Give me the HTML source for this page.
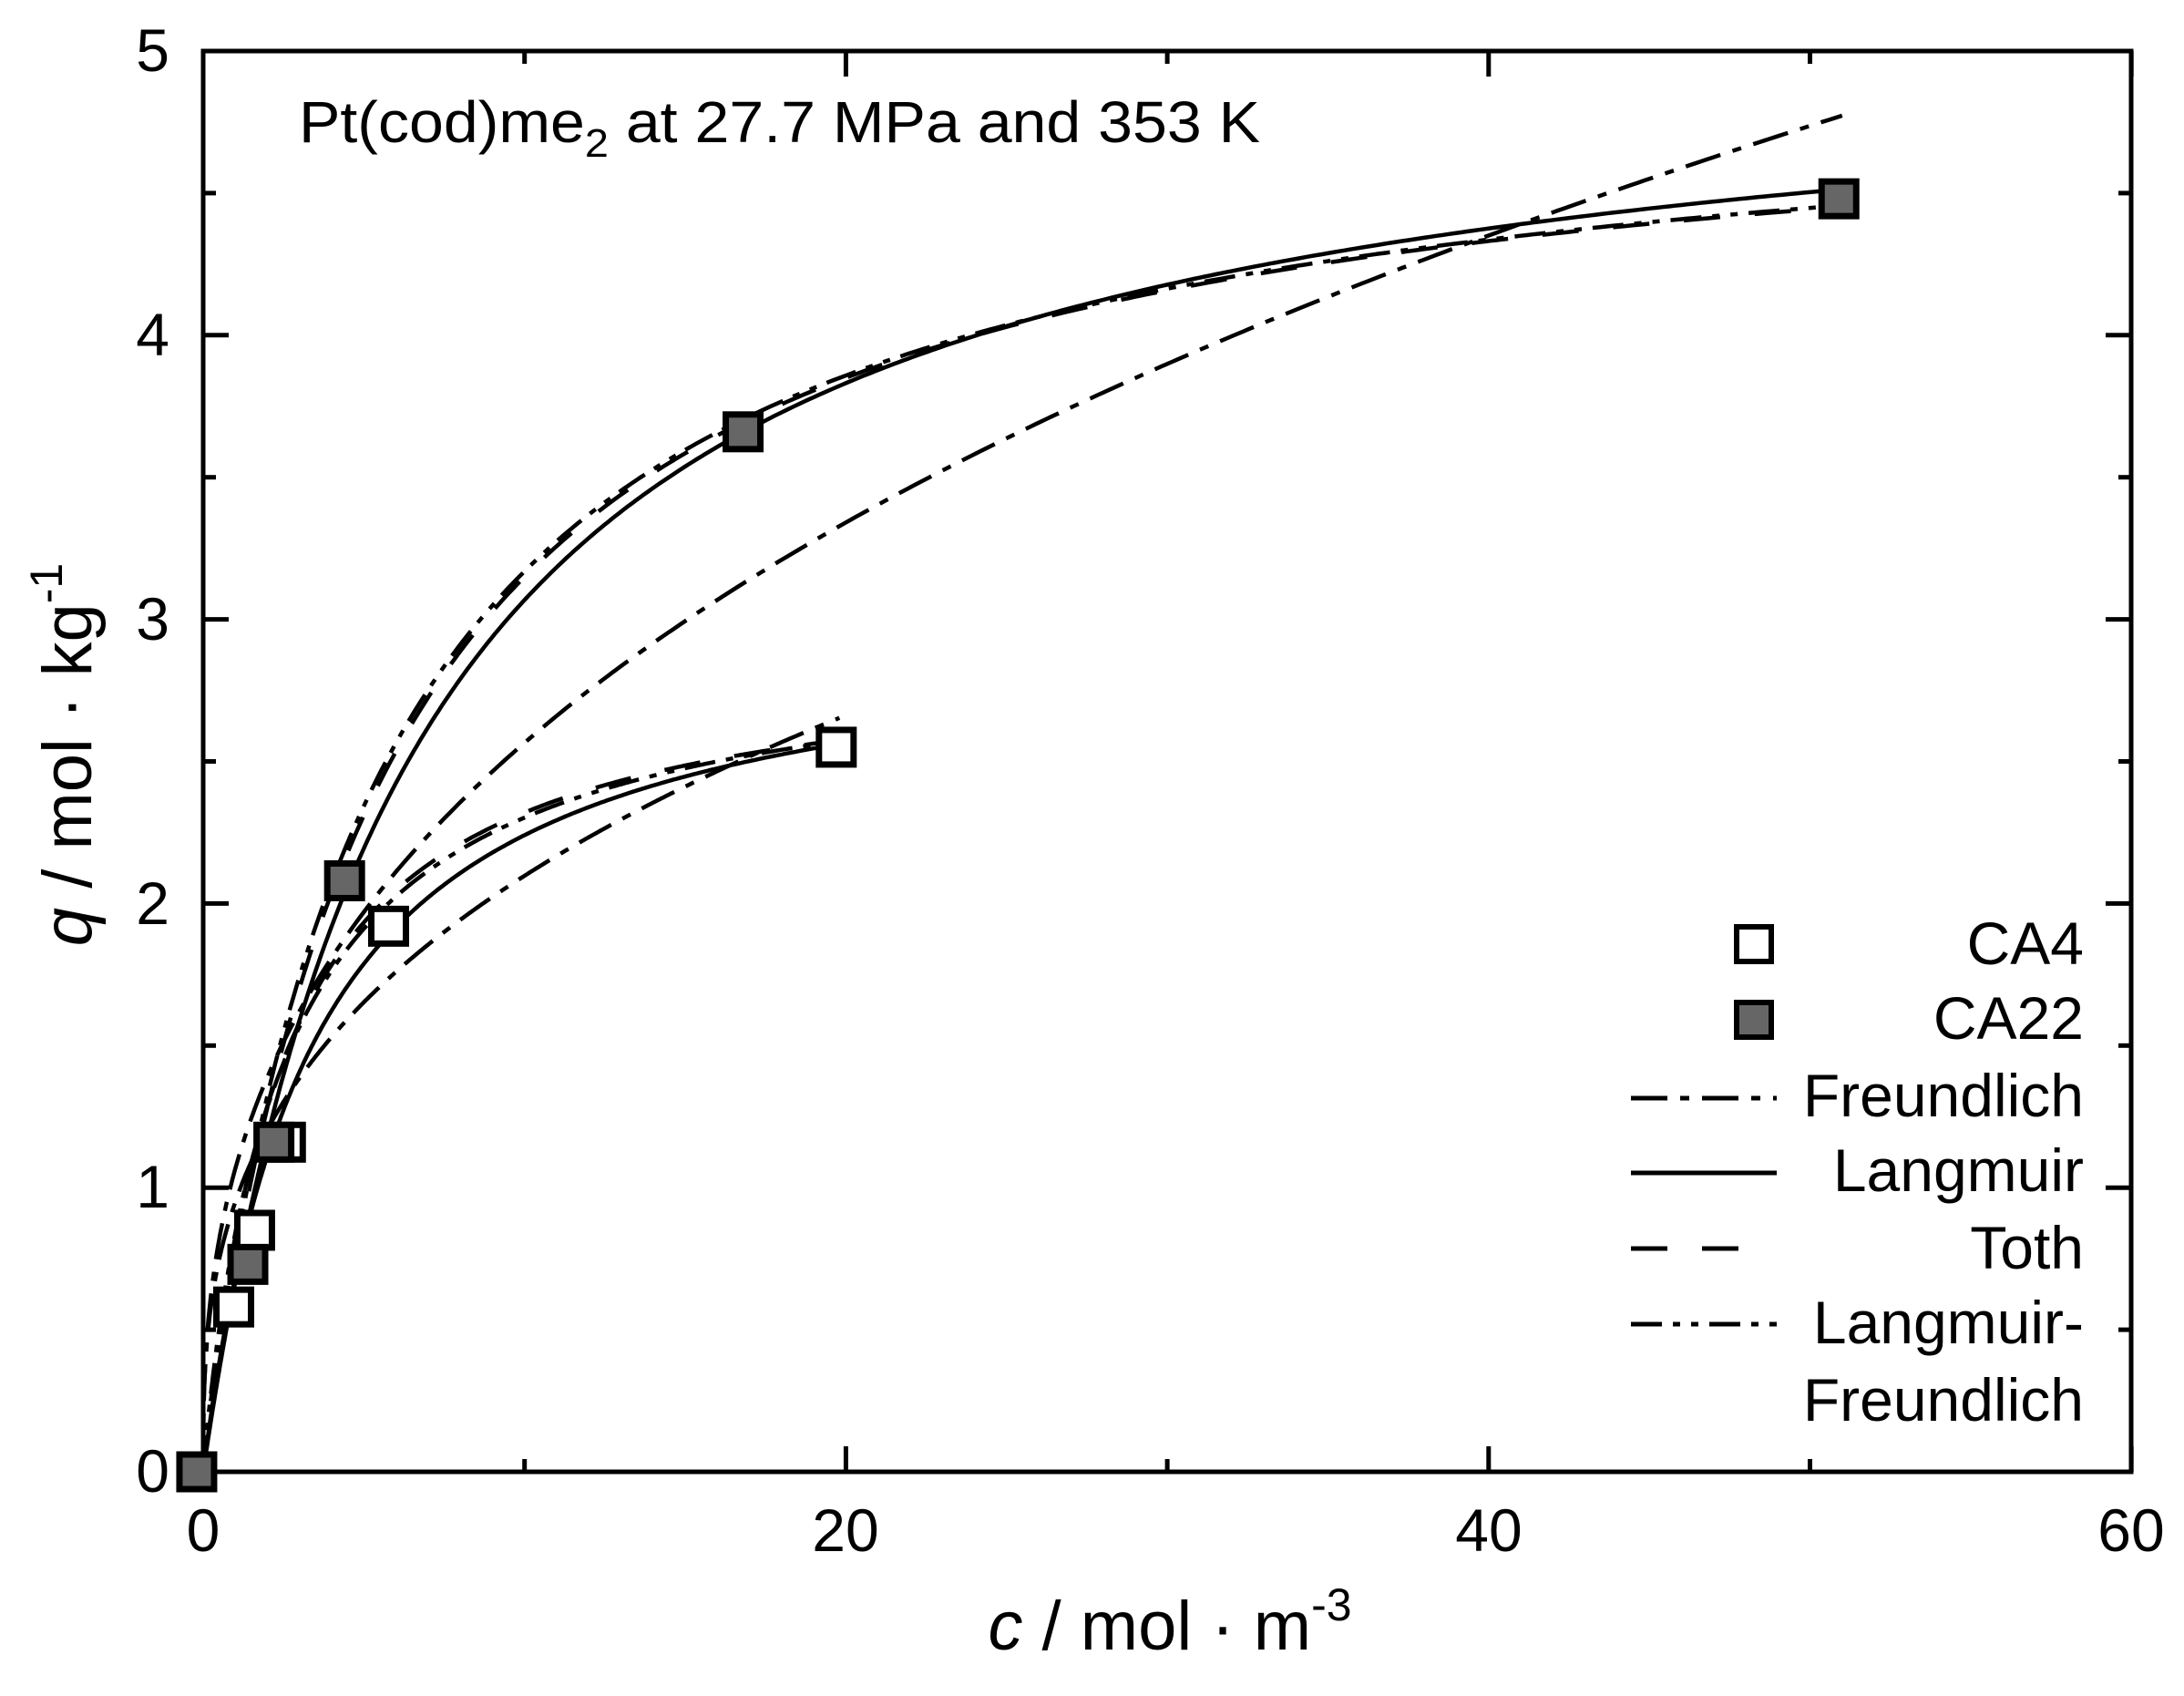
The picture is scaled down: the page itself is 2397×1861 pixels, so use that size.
<!DOCTYPE html>
<html><head><meta charset="utf-8"><style>
html,body{margin:0;padding:0;background:#fff;}
svg{display:block;}
text{font-family:"Liberation Sans",Arial,sans-serif;fill:#000;}
</style></head><body>
<svg id="s" width="2397" height="1861" viewBox="0 0 2397 1861" xmlns="http://www.w3.org/2000/svg">
<rect width="2397" height="1861" fill="#fff"/>
<g id="curves" fill="none" stroke="#000" stroke-width="4.5"></g>
<rect x="223" y="56" width="2116" height="1559" fill="none" stroke="#000" stroke-width="5"/>
<g id="ticks" stroke="#000" stroke-width="5"></g>
<g id="marks"></g>
<g font-size="66" text-anchor="end">
<text x="186" y="78">5</text><text x="186" y="390">4</text><text x="186" y="702">3</text>
<text x="186" y="1014">2</text><text x="186" y="1325">1</text><text x="186" y="1637">0</text>
</g>
<g font-size="66" text-anchor="middle">
<text x="223" y="1702">0</text><text x="928" y="1702">20</text><text x="1634" y="1702">40</text><text x="2339" y="1702">60</text>
</g>
<text x="1284" y="1810" font-size="76" text-anchor="middle"><tspan font-style="italic">c</tspan> / mol · m<tspan font-size="50" dy="-32">-3</tspan></text>
<text transform="translate(100,828) rotate(-90)" font-size="76" text-anchor="middle"><tspan font-style="italic">q</tspan> / mol · kg<tspan font-size="50" dy="-32">-1</tspan></text>
<text x="328" y="156" font-size="64" textLength="1055" lengthAdjust="spacingAndGlyphs">Pt(cod)me<tspan font-size="44" dy="16">2</tspan><tspan dy="-16"> at 27.7 MPa and 353 K</tspan></text>
<g font-size="66" text-anchor="end">
<text x="2287" y="1058">CA4</text><text x="2287" y="1140">CA22</text>
<text x="2287" y="1225">Freundlich</text><text x="2287" y="1307">Langmuir</text>
<text x="2287" y="1392">Toth</text><text x="2287" y="1474">Langmuir-</text>
<text x="2287" y="1559">Freundlich</text>
</g>
<g stroke="#000" stroke-width="5" fill="none">
<rect x="1906" y="1017" width="38" height="38" fill="#fff" stroke-width="6"/>
<rect x="1906" y="1100" width="38" height="38" fill="#666" stroke-width="6"/>
<line x1="1790" y1="1205" x2="1950" y2="1205" stroke-dasharray="40,14,10,14"/>
<line x1="1790" y1="1287" x2="1950" y2="1287"/>
<line x1="1790" y1="1370" x2="1908" y2="1370" stroke-dasharray="40,38"/>
<line x1="1790" y1="1453" x2="1950" y2="1453" stroke-dasharray="34,12,8,12,8,12"/>
</g>
</svg>
<script>
(function(){
var NS="http://www.w3.org/2000/svg";
function X(c){return 223+35.27*c;} function Y(q){return 1615-311.8*q;}
function el(p,t,a){var e=document.createElementNS(NS,t);for(var k in a)e.setAttribute(k,a[k]);p.appendChild(e);return e;}
var cg=document.getElementById("curves"),tg=document.getElementById("ticks"),mg=document.getElementById("marks");
function curve(f,c1,dash){var d="";for(var i=0;i<=400;i++){var c=c1*Math.pow(i/400,1.6);var q=f(c);d+=(i?"L":"M")+X(c).toFixed(1)+","+Y(q).toFixed(1);}
var a={d:d};if(dash)a["stroke-dasharray"]=dash;el(cg,"path",a);}
var DD="40,14,10,14",DT="40,38",DL="34,12,8,12,8,12";
// CA22
curve(function(c){return 5.1*0.151*c/(1+0.151*c);},51);
curve(function(c){return 4.95*0.175*c/(1+0.175*c);},51,DT);
curve(function(c){var x=Math.pow(0.178*c,0.98);return 4.97*x/(1+x);},51,DL);
curve(function(c){return 1.067*Math.pow(c,0.381);},51,DD);
// CA4
curve(function(c){return 3.0*0.295*c/(1+0.295*c);},19.7);
curve(function(c){return 2.9*0.4*c/(1+0.4*c);},19.7,DT);
curve(function(c){var x=Math.pow(0.38*c,0.95);return 2.95*x/(1+x);},19.7,DL);
curve(function(c){return 0.95*Math.pow(c,0.344);},19.8,DD);
// ticks
for(var c=0;c<=60;c+=10){var L=(c%20==0)?28:14;var x=X(c);
el(tg,"line",{x1:x,y1:1615,x2:x,y2:1615-L});el(tg,"line",{x1:x,y1:56,x2:x,y2:56+L});}
for(var q=0;q<=5;q+=0.5){var L=(q%1==0)?28:14;var y=Y(q);
el(tg,"line",{x1:223,y1:y,x2:223+L,y2:y});el(tg,"line",{x1:2339,y1:y,x2:2339-L,y2:y});}
function mk(c,q,f){el(mg,"rect",{x:X(c)-19,y:Y(q)-19,width:38,height:38,fill:f,stroke:"#000","stroke-width":7});}
[[0.95,0.58],[1.6,0.85],[2.56,1.16],[5.77,1.92],[19.7,2.55]].forEach(function(p){mk(p[0],p[1],"#fff");});
[[-0.2,0],[1.39,0.73],[2.2,1.16],[4.4,2.08],[16.8,3.66],[50.9,4.48]].forEach(function(p){mk(p[0],p[1],"#666");});
})();
</script>
</body></html>
